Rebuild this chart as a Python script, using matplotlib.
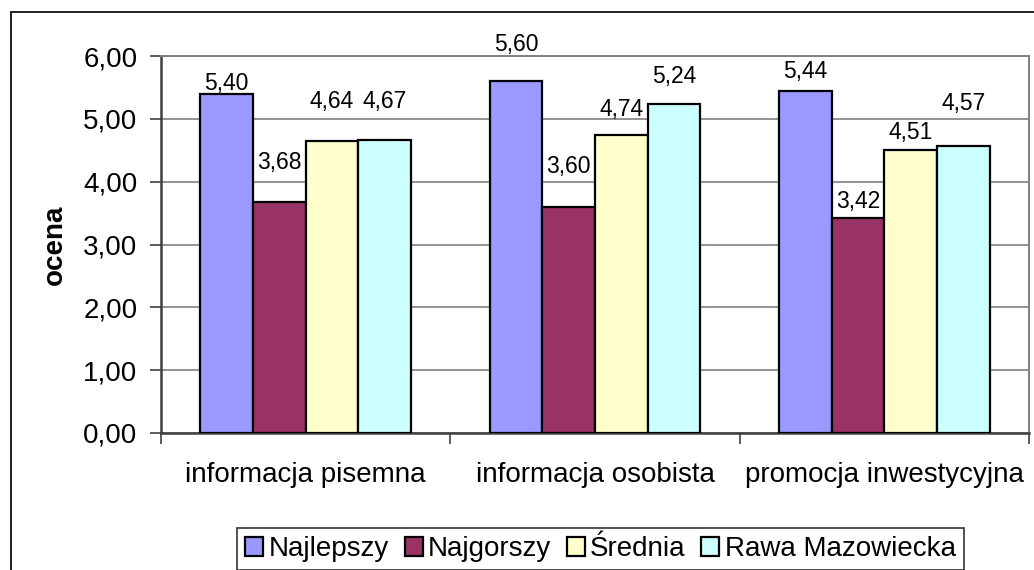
import matplotlib
matplotlib.use("Agg")
import matplotlib.pyplot as plt
import numpy as np
from matplotlib.patches import Rectangle
from matplotlib.ticker import FixedLocator, FuncFormatter

plt.rcParams["font.family"] = ["Liberation Sans", "DejaVu Sans"]

categories = ["informacja pisemna", "informacja osobista", "promocja inwestycyjna"]
series_names = ["Najlepszy", "Najgorszy", "Średnia", "Rawa Mazowiecka"]
najlepszy = [5.40, 5.60, 5.44]
najgorszy = [3.68, 3.60, 3.42]
srednia = [4.64, 4.74, 4.51]
rawa = [4.67, 5.24, 4.57]

colors = ["#9999FF", "#993366", "#FFFFCC", "#CCFFFF"]
# label distance above bar top (pixels), per series then per category
label_offsets = [
    [10, 37, 20],
    [39, 40, 17],
    [40, 26, 17],
    [38, 27, 42],
]

fig = plt.figure(figsize=(10.34, 5.70), dpi=100)
ax = fig.add_axes([161 / 1034, 1 - 433 / 570, 868 / 1034, 377 / 570])

x = np.arange(len(categories))
w = 1 / 5.5
all_series = [najlepszy, najgorszy, srednia, rawa]
for i, (vals, name, col) in enumerate(zip(all_series, series_names, colors)):
    pos = x + (i - 1.5) * w
    bars = ax.bar(pos, vals, width=w, color=col, edgecolor="black",
                  linewidth=1.6, label=name, zorder=3)
    for b, v, off in zip(bars, vals, label_offsets[i]):
        ax.annotate(f"{v:.2f}".replace(".", ","),
                    (b.get_x() + b.get_width() / 2, v),
                    xytext=(0, off), textcoords="offset pixels",
                    ha="center", va="center", fontsize=16.5, zorder=4)

ax.set_xlim(-0.5, len(categories) - 0.5)
ax.set_ylim(0, 6)
ax.set_yticks(np.arange(0, 7, 1))
ax.yaxis.set_major_formatter(FuncFormatter(lambda v, p: f"{v:.2f}".replace(".", ",")))
ax.yaxis.grid(True, color="#808080", linewidth=1.2, zorder=0)

ax.set_xticks(x)
ax.set_xticklabels(categories)
ax.xaxis.set_minor_locator(FixedLocator(np.arange(-0.5, len(categories), 1)))
ax.tick_params(axis="x", which="major", length=0, pad=21, labelsize=20)
ax.tick_params(axis="x", which="minor", length=8, width=1.2, color="#404040", direction="out")
ax.tick_params(axis="y", length=8, width=1.2, color="#404040", direction="out",
               labelsize=20, pad=9)

for s in ["left", "bottom"]:
    ax.spines[s].set_color("#404040")
    ax.spines[s].set_linewidth(1.8)
for s in ["top", "right"]:
    ax.spines[s].set_color("#808080")
    ax.spines[s].set_linewidth(1.4)

ax.set_ylabel("ocena", fontsize=20, fontweight="bold")
ax.yaxis.set_label_coords(-93 / 868, 1 - (245 - 56) / 377)

# outer chart area border (cut off at right and bottom)
fig.patches.append(Rectangle((11 / 1034, -0.1), 1.2, 1.1 - 12 / 570,
                             transform=fig.transFigure, fill=False,
                             edgecolor="#202020", linewidth=1.4))

leg = fig.legend(loc="center", bbox_to_anchor=(600.5 / 1034, 1 - 549 / 570),
                 ncol=4, fontsize=20, frameon=True, fancybox=False,
                 edgecolor="black", handlelength=0.65, handleheight=0.65,
                 handletextpad=0.2, columnspacing=0.55, borderpad=0.3,
                 borderaxespad=0)
leg.get_frame().set_linewidth(1.2)

fig.savefig("out.png", dpi=100)
